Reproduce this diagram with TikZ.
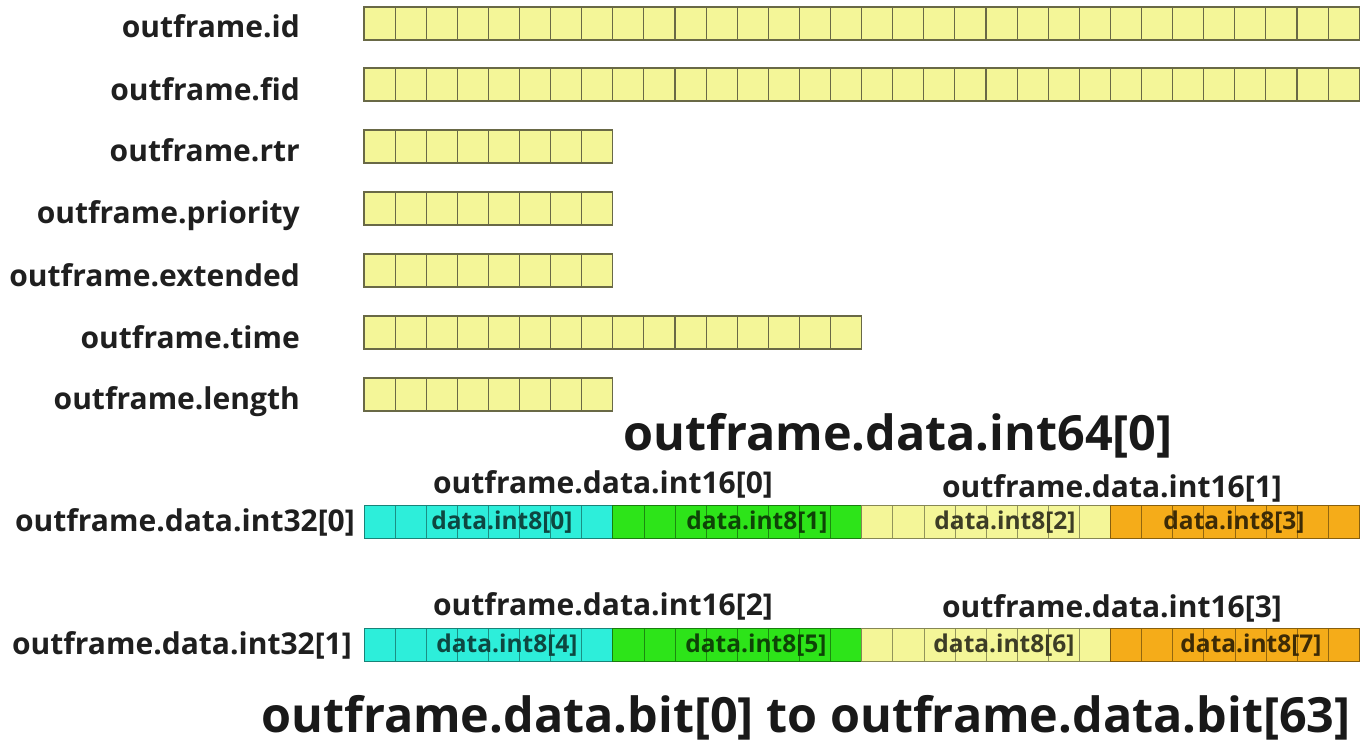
\documentclass[tikz,border=0pt]{standalone}
\usepackage{fontspec}
\setmainfont{Open Sans}
\definecolor{cellyellow}{RGB}{244,246,152}
\definecolor{cellline}{RGB}{105,105,70}
\definecolor{bytecyan}{RGB}{45,238,218}
\definecolor{bytegreen}{RGB}{45,228,25}
\definecolor{byteorange}{RGB}{245,172,25}
\tikzset{
  bitcell/.style={draw=cellline, fill=cellyellow, line width=1.1pt},
  fieldlbl/.style={font=\bfseries\fontsize{30}{32}\selectfont, anchor=base east, inner sep=0pt, text=black!88},
  wordlbl/.style={font=\bfseries\fontsize{30}{32}\selectfont, anchor=base, inner sep=0pt, text=black!88},
  bigtitle/.style={font=\bfseries\fontsize{48.5}{50}\selectfont, anchor=base, inner sep=0pt, text=black!90},
  bytelbl/.style={font=\bfseries\fontsize{24.5}{26}\selectfont, anchor=base, inner sep=0pt},
}
% one byte of a data word: 8 cells filled with colour #1, left edge #2, top #3
\newcommand\bytecells[3]{%
  \fill[#1] (#2,#3) rectangle ++(248.8,33);
  \foreach \k in {1,...,7}
    \draw[#1!60!black, line width=0.6pt] ({#2+\k*31.1},#3) -- ++(0,33);
  \draw[#1!55!black, line width=0.8pt] (#2,#3) rectangle ++(248.8,33);
}
% a plain field: #2 cells starting at top #1
\newcommand\fieldcells[2]{%
  \foreach \k in {1,...,#2}
    \draw[bitcell] ({364+(\k-1)*31.1},#1) rectangle ++(31.1,33);
}
\begin{document}
\begin{tikzpicture}[x=1pt,y=-1pt]
  \useasboundingbox (0,0) rectangle (1369,742);
  \fill[white] (0,0) rectangle (1369,742);

  % plain fields
  \fieldcells{7}{32}
  \fieldcells{68}{32}
  \fieldcells{130}{8}
  \fieldcells{192}{8}
  \fieldcells{254}{8}
  \fieldcells{316}{16}
  \fieldcells{378}{8}

  \node[fieldlbl] (lid)   at (300,37)  {outframe.id};
  \node[fieldlbl] (lfid)  at (300,100) {outframe.fid};
  \node[fieldlbl] (lrtr)  at (300,161) {outframe.rtr};
  \node[fieldlbl] (lprio) at (300,223) {outframe.priority};
  \node[fieldlbl] (lext)  at (300,286) {outframe.extended};
  \node[fieldlbl] (ltime) at (300,348) {outframe.time};
  \node[fieldlbl] (llen)  at (300,409) {outframe.length};

  \node[bigtitle] (t64) at (898,450) {outframe.data.int64[0]};

  % first 32-bit word
  \bytecells{bytecyan}{364}{505}
  \bytecells{bytegreen}{612.8}{505}
  \bytecells{cellyellow}{861.6}{505}
  \bytecells{byteorange}{1110.4}{505}
  \node[bytelbl, text=bytecyan!30!black]   (b0) at (502,529)  {data.int8[0]};
  \node[bytelbl, text=bytegreen!30!black]  (b1) at (757,529)  {data.int8[1]};
  \node[bytelbl, text=cellyellow!25!black] (b2) at (1005,529) {data.int8[2]};
  \node[bytelbl, text=byteorange!25!black] (b3) at (1234,529) {data.int8[3]};
  \node[wordlbl] (h0) at (603,493) {outframe.data.int16[0]};
  \node[wordlbl] (h1) at (1112,497) {outframe.data.int16[1]};
  \node[wordlbl, anchor=base east] (w0) at (355,531) {outframe.data.int32[0]};

  % second 32-bit word
  \bytecells{bytecyan}{364}{628}
  \bytecells{bytegreen}{612.8}{628}
  \bytecells{cellyellow}{861.6}{628}
  \bytecells{byteorange}{1110.4}{628}
  \node[bytelbl, text=bytecyan!30!black]   (b4) at (507,652)  {data.int8[4]};
  \node[bytelbl, text=bytegreen!30!black]  (b5) at (756,652)  {data.int8[5]};
  \node[bytelbl, text=cellyellow!25!black] (b6) at (1004,652) {data.int8[6]};
  \node[bytelbl, text=byteorange!25!black] (b7) at (1251,652) {data.int8[7]};
  \node[wordlbl] (h2) at (603,615) {outframe.data.int16[2]};
  \node[wordlbl] (h3) at (1112,617) {outframe.data.int16[3]};
  \node[wordlbl, anchor=base east] (w1) at (352,654) {outframe.data.int32[1]};

  \node[bigtitle] (tbit) at (806,732) {outframe.data.bit[0] to outframe.data.bit[63]};
\end{tikzpicture}
\end{document}
